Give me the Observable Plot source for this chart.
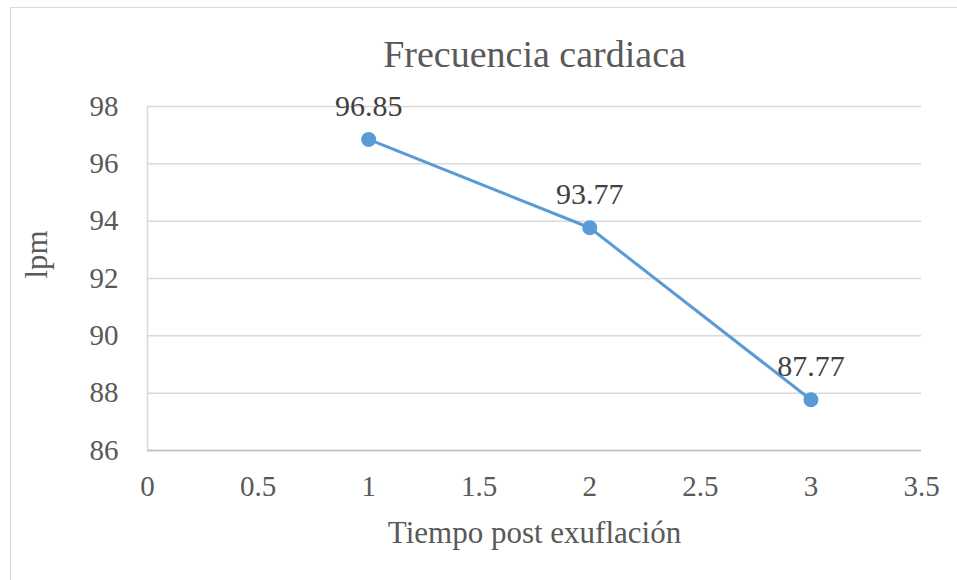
<!DOCTYPE html>
<html>
<head>
<meta charset="utf-8">
<script src="https://cdn.jsdelivr.net/npm/d3@7"></script>
<script src="https://cdn.jsdelivr.net/npm/@observablehq/plot@0.6"></script>
<style>
  html, body { margin: 0; padding: 0; background: #fff; overflow: hidden; }
  #wrap { position: relative; width: 957px; height: 580px; }
  #border { position: absolute; left: 10px; top: 7px; right: -10px; bottom: -10px; border: 1.5px solid #D9D9D9; pointer-events: none; }
  svg, svg text { font-family: "Liberation Serif", "Times New Roman", serif !important; font-variant-numeric: normal !important; }
</style>
</head>
<body>
<div id="wrap"><div id="border"></div></div>
<script>
const title = "Frecuencia cardiaca";
const xTitle = "Tiempo post exuflación";
const yTitle = "lpm";
const tiempo = [1, 2, 3];
const lpm = [96.85, 93.77, 87.77];
const labels = ["96.85", "93.77", "87.77"];
const xTicks = [0, 0.5, 1, 1.5, 2, 2.5, 3, 3.5];
const yTicks = [86, 88, 90, 92, 94, 96, 98];

const data = tiempo.map((t, i) => ({t, v: lpm[i], label: labels[i]}));
const ff = "'Liberation Serif', 'Times New Roman', serif";

const chart = Plot.plot({
  width: 957,
  height: 580,
  marginLeft: 147,
  marginRight: 36,
  marginTop: 106,
  marginBottom: 130,
  style: {fontFamily: ff, background: "transparent"},
  x: {domain: [0, 3.5], ticks: xTicks, tickFormat: d => String(d)},
  y: {domain: [86, 98], ticks: yTicks, tickFormat: d => String(d)},
  marks: [
    Plot.gridY(yTicks, {stroke: "#D9D9D9", strokeOpacity: 1, strokeWidth: 1.5}),
    Plot.ruleX([0], {stroke: "#D9D9D9", strokeWidth: 1.5}),
    Plot.ruleY([86], {stroke: "#BFBFBF", strokeWidth: 1.5}),
    Plot.axisY(yTicks, {tickSize: 0, tickPadding: 29, fontSize: 29, fontFamily: ff, fill: "#595959", label: null, tickFormat: d => String(d)}),
    Plot.axisX(xTicks, {tickSize: 0, tickPadding: 25, fontSize: 29, fontFamily: ff, fill: "#595959", label: null, tickFormat: d => String(d)}),
    Plot.line(data, {x: "t", y: "v", stroke: "#5B9BD5", strokeWidth: 3}),
    Plot.dot(data, {x: "t", y: "v", r: 7.5, fill: "#5B9BD5", stroke: "none"}),
    Plot.text(data, {x: "t", y: "v", text: "label", dy: -33, fontSize: 30, fontFamily: ff, fill: "#404040"}),
    Plot.text([title], {frameAnchor: "top", dy: -66, fontSize: 38, fontFamily: ff, fill: "#595959"}),
    Plot.text([xTitle], {frameAnchor: "bottom", dy: 92, fontSize: 31, fontFamily: ff, fill: "#595959"}),
    Plot.text([yTitle], {frameAnchor: "left", dx: -110, rotate: -90, fontSize: 31, fontFamily: ff, fill: "#595959"})
  ]
});
document.getElementById("wrap").prepend(chart);
</script>
</body>
</html>
